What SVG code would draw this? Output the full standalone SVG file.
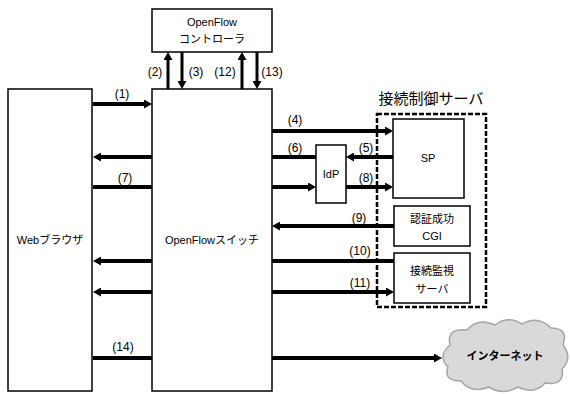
<svg xmlns="http://www.w3.org/2000/svg" width="570" height="394" viewBox="0 0 570 394">
<style>
.box{fill:#fff;stroke:#000;stroke-width:1.5}
.t{font-family:"Liberation Sans","Noto Sans CJK JP",sans-serif;font-size:11px;fill:#000;text-anchor:middle}
.lb{font-family:"Liberation Sans","Noto Sans CJK JP",sans-serif;font-size:12px;fill:#000;text-anchor:middle}
.h{stroke:#000;stroke-width:4;fill:none}
.v{stroke:#000;stroke-width:3;fill:none}
</style>
<defs>
<marker id="ah" viewBox="0 0 8 9" refX="0" refY="4.5" markerWidth="8" markerHeight="9" markerUnits="userSpaceOnUse" orient="auto">
<path d="M0,0 L8,4.5 L0,9 Z" fill="#000"/>
</marker>
</defs>
<g id="controller">
<rect class="box" x="152" y="9" width="120" height="43"/>
<text class="t" x="212" y="26">OpenFlow</text>
<text class="t" x="212" y="43">コントローラ</text>
</g>
<g id="browser">
<rect class="box" x="8" y="89" width="84" height="302"/>
<text class="t" x="50" y="244">Webブラウザ</text>
</g>
<g id="switch">
<rect class="box" x="152" y="89" width="120" height="302"/>
<text class="t" x="212" y="244">OpenFlowスイッチ</text>
</g>
<g id="server-group">
<rect x="377" y="114" width="109" height="193" fill="none" stroke="#000" stroke-width="2.5" stroke-dasharray="5,2"/>
<text x="431" y="104" font-family="Liberation Sans,'Noto Sans CJK JP',sans-serif" font-size="15" text-anchor="middle">接続制御サーバ</text>
</g>
<g id="idp">
<rect class="box" x="316" y="145" width="30" height="58"/>
<text class="t" x="331" y="178">IdP</text>
</g>
<g id="sp">
<rect class="box" x="393" y="119" width="71" height="79"/>
<text class="t" x="428" y="162">SP</text>
</g>
<g id="cgi">
<rect class="box" x="394" y="206" width="76" height="40"/>
<text class="t" x="432" y="223">認証成功</text>
<text class="t" x="432" y="240" font-size="10">CGI</text>
</g>
<g id="monitor">
<rect class="box" x="394" y="253" width="76" height="50"/>
<text class="t" x="432" y="275">接続監視</text>
<text class="t" x="432" y="293">サーバ</text>
</g>
<g id="internet">
<path d="M450 345 Q446 328 467 330 Q478 317 495 325 Q508 315 522 324 Q538 315 551 328 Q569 328 563 345 Q573 358 562 369 Q565 386 545 383 Q535 395 518 387 Q503 396 489 387 Q471 394 461 381 Q443 381 448 367 Q437 356 450 345 Z" fill="#d9d9d9" stroke="#a6a6a6" stroke-width="1.5"/>
<text x="505" y="360" font-family="Liberation Sans,'Noto Sans CJK JP',sans-serif" font-size="11" font-weight="bold" text-anchor="middle">インターネット</text>
</g>
<g id="connectors">
<line class="h" x1="93" y1="104" x2="144" y2="104" marker-end="url(#ah)"/>
<line class="h" x1="152" y1="157" x2="101" y2="157" marker-end="url(#ah)"/>
<line class="h" x1="93" y1="187" x2="152" y2="187"/>
<line class="h" x1="152" y1="261" x2="101" y2="261" marker-end="url(#ah)"/>
<line class="h" x1="152" y1="292" x2="101" y2="292" marker-end="url(#ah)"/>
<line class="h" x1="93" y1="358" x2="152" y2="358"/>
<line class="v" x1="168" y1="89" x2="168" y2="60" marker-end="url(#ah)"/>
<line class="v" x1="182" y1="52" x2="182" y2="81" marker-end="url(#ah)"/>
<line class="v" x1="242" y1="89" x2="242" y2="60" marker-end="url(#ah)"/>
<line class="v" x1="257" y1="52" x2="257" y2="81" marker-end="url(#ah)"/>
<line class="h" x1="272" y1="131" x2="385" y2="131" marker-end="url(#ah)"/>
<line class="h" x1="272" y1="157" x2="316" y2="157"/>
<line class="h" x1="393" y1="157" x2="354" y2="157" marker-end="url(#ah)"/>
<line class="h" x1="272" y1="187" x2="308" y2="187" marker-end="url(#ah)"/>
<line class="h" x1="346" y1="187" x2="385" y2="187" marker-end="url(#ah)"/>
<line class="h" x1="394" y1="226" x2="280" y2="226" marker-end="url(#ah)"/>
<line class="h" x1="272" y1="261" x2="394" y2="261"/>
<line class="h" x1="272" y1="292" x2="386" y2="292" marker-end="url(#ah)"/>
<line class="h" x1="272" y1="358" x2="434" y2="358" marker-end="url(#ah)"/>
</g>
<g id="labels">
<text class="lb" x="122" y="98">(1)</text>
<text class="lb" x="125" y="182">(7)</text>
<text class="lb" x="123" y="351">(14)</text>
<text class="lb" x="155" y="76">(2)</text>
<text class="lb" x="196" y="76">(3)</text>
<text class="lb" x="225" y="76">(12)</text>
<text class="lb" x="272" y="76">(13)</text>
<text class="lb" x="295" y="124">(4)</text>
<text class="lb" x="295" y="152">(6)</text>
<text class="lb" x="366" y="152">(5)</text>
<text class="lb" x="366" y="182">(8)</text>
<text class="lb" x="359" y="222">(9)</text>
<text class="lb" x="360" y="255">(10)</text>
<text class="lb" x="360" y="287">(11)</text>
</g>
</svg>
